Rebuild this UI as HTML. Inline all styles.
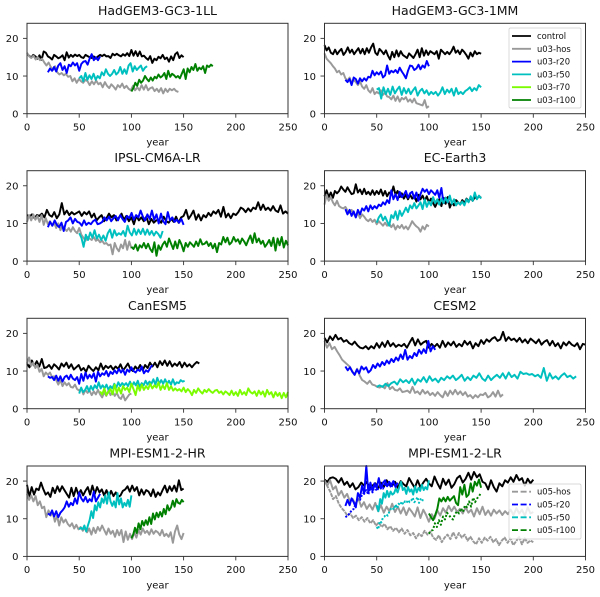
<!DOCTYPE html>
<html lang="en">
<head>
<meta charset="utf-8">
<title>AMOC recovery panels</title>
<style>
html,body{margin:0;padding:0;background:#fff;}
svg{display:block;filter:blur(0.3px);}
text{font-family:"DejaVu Sans","Liberation Sans",sans-serif;fill:#111;}
</style>
</head>
<body>
<svg id="chart" xmlns="http://www.w3.org/2000/svg" width="600" height="597" viewBox="0 0 600 597"></svg>
<script>
const xTicks = [0, 50, 100, 150, 200, 250];
const yTicks = [0, 10, 20];
const xMax = 250;
const yMax = 24;

const llControl = [15.8,15.4,14.9,15.6,15.2,14.6,15.5,14.3,16.5,16.2,15.2,14.9,14.4,15.6,15.2,14.7,15.0,15.5,14.2,16.3,14.9,15.6,15.1,15.7,15.3,15.6,15.0,14.8,15.6,15.3,15.0,14.8,15.2,14.6,15.2,15.6,15.3,15.7,15.2,15.3,14.8,15.9,15.5,15.9,15.5,15.2,15.8,15.4,16.1,15.3,16.9,15.4,16.6,15.3,16.5,15.2,15.4,14.8,14.3,15.3,13.5,14.6,14.2,15.1,14.7,15.6,14.5,14.9,13.8,15.2,14.2,15.8,16.3,14.8,15.5,15.0];
const llHos = [16.2,15.2,14.8,15.4,14.4,15.0,14.2,14.6,13.6,12.8,13.6,12.4,11.6,12.6,11.0,10.4,10.8,10.2,10.6,9.8,10.0,8.6,9.4,8.2,9.2,8.6,8.2,9.0,8.6,7.6,8.6,7.8,8.8,7.8,8.2,7.0,8.4,7.4,6.8,7.8,7.2,6.4,7.6,7.0,8.0,6.8,7.4,6.6,6.2,7.4,6.2,7.0,6.2,7.6,6.4,7.6,6.2,6.8,7.0,6.0,6.6,5.8,6.8,5.4,6.6,5.8,6.6,6.2,6.6,6.0,5.8];
const llR20 = [11.0,12.0,11.4,12.4,11.2,12.8,13.4,11.6,12.6,10.8,13.0,12.6,13.6,12.8,13.4,11.4,13.2,13.8,14.0,13.0,14.6,15.8,14.2,15.0,14.2,15.2];
const llR50 = [9.4,10.0,8.6,10.8,9.0,10.2,9.2,10.6,9.0,10.0,9.4,11.0,10.2,11.8,10.6,10.0,10.6,11.6,10.4,11.0,12.4,10.6,11.8,10.6,12.8,13.4,11.2,12.6,11.6,12.2,12.8,11.4,12.2,12.6];
const llR100 = [5.9,6.8,8.2,7.4,9.0,8.2,8.8,10.0,9.2,8.6,9.6,8.8,9.8,9.4,10.4,9.6,10.0,10.8,9.2,11.4,9.8,10.6,10.2,9.6,10.0,9.4,10.6,11.8,9.2,12.0,11.0,12.4,11.6,13.2,11.4,12.2,11.8,12.6,10.8,12.8,12.4,13.0,12.6];

const mmControl = [18.2,16.8,17.6,16.2,15.8,17.0,15.8,16.6,17.2,15.6,16.4,17.6,16.2,17.0,15.8,16.6,17.4,16.0,17.2,15.8,17.4,16.2,17.6,18.6,16.2,15.6,17.2,16.6,15.8,16.8,15.4,14.4,16.4,15.0,16.8,15.2,16.6,15.6,15.2,14.8,16.0,15.4,14.8,15.8,17.0,15.0,17.4,15.4,16.8,15.6,16.6,16.2,15.8,16.6,14.6,17.0,16.4,15.8,16.4,15.8,16.6,17.8,16.2,16.8,15.8,17.0,16.4,15.6,14.6,16.2,15.2,16.6,15.8,16.2,15.9];
const mmHos = [16.0,14.6,14.0,13.4,12.6,12.0,11.0,11.4,10.4,10.8,9.4,8.8,9.6,8.2,9.0,8.4,7.6,8.6,7.2,6.6,7.6,6.2,5.6,6.8,5.2,5.8,5.4,6.2,5.0,5.6,4.6,4.4,3.8,4.8,3.4,4.6,3.2,4.2,3.8,4.4,3.2,3.8,3.0,4.0,2.8,2.6,2.4,2.2,3.6,1.6,2.0];
const mmR20 = [9.0,8.4,9.2,7.6,9.6,9.2,8.0,9.4,8.6,9.4,8.8,9.8,9.6,11.4,10.2,11.0,10.4,11.2,9.6,10.2,12.8,10.6,11.4,11.0,11.6,10.8,12.2,11.2,10.4,9.4,11.4,12.8,12.6,11.6,12.0,13.0,11.8,12.8,12.2,14.0,12.6];
const mmR50 = [6.4,6.8,4.0,7.0,5.2,6.6,5.0,7.2,5.4,6.4,7.2,5.0,6.8,5.4,6.6,5.2,6.2,7.0,4.8,6.0,6.6,5.4,6.2,5.0,5.8,5.2,5.8,4.8,5.6,7.0,5.2,6.4,5.6,6.6,4.8,6.8,5.2,5.8,5.2,6.0,6.4,7.0,6.0,6.8,6.2,7.6,7.0];

const ipslControl = [12.2,11.8,12.4,11.4,12.2,12.0,12.6,11.6,13.6,12.2,11.8,13.0,11.4,12.4,15.4,12.4,13.4,12.2,13.0,12.4,12.8,13.2,12.0,13.0,12.4,13.2,11.6,12.6,10.8,11.6,12.2,10.6,11.4,12.6,11.6,12.2,10.8,11.6,12.6,11.0,12.0,10.6,11.6,9.8,12.0,10.8,11.6,10.6,11.8,9.8,11.2,10.2,10.8,11.0,10.2,11.8,10.6,10.2,11.2,10.4,11.8,10.2,11.6,12.0,13.6,11.2,12.2,13.4,11.0,12.4,10.8,12.2,11.6,12.8,12.0,13.2,12.6,13.6,11.8,14.4,11.6,12.6,11.4,12.6,12.2,13.0,14.2,13.8,13.0,14.0,13.2,14.2,13.8,15.6,13.6,15.0,13.6,14.2,13.4,14.6,13.4,13.0,14.8,12.6,13.2,12.6];
const ipslHos = [10.4,12.2,10.8,12.4,11.0,12.0,10.4,12.2,9.6,11.4,9.8,10.6,9.4,10.2,8.8,10.0,8.2,9.4,8.6,8.0,8.8,7.8,9.0,8.0,7.4,8.8,7.0,6.2,5.4,6.4,6.0,5.6,6.4,5.4,5.8,5.0,5.4,4.6,4.8,4.2,4.4,1.8,4.8,3.4,2.6,4.4,3.4,5.6,3.0,5.2,3.4];
const ipslR20 = [9.0,10.4,9.4,10.8,9.6,9.0,10.2,8.0,10.4,10.8,11.6,10.0,11.2,10.4,10.2,9.4,10.8,9.6,10.2,9.8,10.6,11.0,9.8,10.0,10.4,11.6,10.8,11.8,10.6,11.4,12.0,10.8,12.2,11.2,10.4,12.0,11.4,12.8,11.0,12.2,11.6,13.4,11.8,10.8,12.4,11.2,13.4,11.0,12.4,10.0,12.6,10.6,9.8,13.0,10.8,11.6,10.4,11.0,10.2,11.2,9.6];
const ipslR50 = [7.4,6.2,3.8,7.0,5.6,7.6,6.2,8.2,6.0,7.0,5.6,6.8,5.4,7.4,8.4,6.2,8.2,6.8,7.4,7.0,8.0,6.6,9.4,7.6,6.8,8.6,7.0,8.4,7.2,8.6,7.0,8.4,7.0,8.0,6.8,7.8,7.2,6.2,8.0];
const ipslR100 = [3.8,3.2,4.4,2.8,4.2,3.6,4.8,3.4,4.6,3.2,2.4,5.0,1.4,4.2,3.0,4.4,5.2,3.8,6.0,4.6,3.2,5.2,3.4,5.6,4.4,2.6,4.8,3.8,5.0,4.4,3.8,5.2,4.0,5.8,4.4,4.6,5.2,4.0,4.8,3.4,4.6,2.4,4.8,4.4,6.4,5.0,6.2,4.4,5.0,6.4,5.2,5.8,4.6,6.0,5.2,4.2,5.6,6.8,4.8,7.4,5.0,6.0,4.6,5.4,3.8,4.6,5.6,4.0,6.2,2.8,6.0,4.2,6.4,3.6,5.4,4.2];

const ecControl = [17.2,18.8,17.0,18.2,16.8,18.6,18.0,18.6,19.8,19.0,18.4,19.6,18.6,17.8,18.0,20.4,18.2,19.0,17.8,19.2,17.8,18.4,17.6,18.8,17.6,18.6,17.8,19.0,17.4,18.6,17.2,18.2,17.8,19.8,17.6,18.6,17.0,18.0,16.6,17.6,16.4,17.6,16.6,17.4,15.8,17.6,16.4,17.4,16.0,17.2,15.6,16.6,15.4,14.4,15.6,16.4,14.6,16.8,15.2,17.0,14.2,15.6,14.8,16.2,15.6,15.0,16.2,15.4,16.6,15.8,16.8,16.0,17.0,16.6,17.2,16.8];
const ecHos = [15.0,17.6,16.0,17.0,15.6,14.8,16.0,14.6,14.2,14.0,14.4,13.4,12.8,13.6,12.6,11.6,12.8,11.4,12.4,11.8,11.0,10.6,11.2,10.4,11.0,9.8,10.6,10.0,9.4,10.2,9.4,10.0,9.0,9.8,8.4,9.4,8.8,9.6,8.6,9.2,8.4,9.4,10.6,9.8,9.2,8.8,7.8,9.2,8.4,9.6,9.2];
const ecR20 = [13.8,12.4,13.6,12.0,13.2,11.6,13.6,12.4,14.0,13.4,14.6,13.2,14.8,13.8,14.6,14.0,15.0,14.6,15.6,15.0,16.2,15.4,18.8,16.4,17.8,16.2,18.4,17.0,17.6,18.6,16.8,18.0,18.4,16.6,18.2,16.0,17.8,19.2,18.4,19.0,17.8,18.8,18.2,17.6,18.8,16.8,19.4,15.4,16.8,15.6,17.0];
const ecR50 = [10.2,11.6,12.4,10.8,11.8,10.6,9.4,12.2,11.4,13.2,11.0,13.4,12.0,13.0,14.2,13.0,14.8,14.0,15.4,14.0,14.8,15.6,13.8,16.4,14.4,15.8,14.8,17.0,15.4,16.4,15.0,16.6,15.4,16.8,15.6,17.4,15.2,16.4,14.8,15.6,15.0,15.8,14.8,16.4,15.6,17.2,16.0,18.2,16.4,17.4,16.6];

const canControl = [12.0,11.0,12.8,11.4,12.6,11.2,13.2,10.8,11.0,11.6,10.6,11.8,11.2,10.4,12.0,11.2,12.2,10.8,11.8,10.4,11.0,11.6,10.2,10.8,9.8,11.4,10.6,10.0,11.0,10.2,12.0,10.4,11.4,10.8,11.4,10.4,11.2,10.6,11.8,10.2,11.0,12.0,10.6,10.0,11.2,10.4,11.6,10.2,11.6,10.8,12.2,11.2,12.2,11.0,12.6,11.6,12.8,11.4,12.6,11.2,12.0,11.4,12.4,11.0,12.2,11.2,11.8,11.0,11.8,12.4,12.0];
const canHos = [12.0,13.6,11.4,12.2,10.8,11.6,9.8,10.6,8.6,9.6,9.0,9.6,8.4,8.6,7.6,6.4,7.6,6.0,7.0,6.2,6.8,5.8,5.6,6.4,5.2,4.8,5.4,3.8,5.0,4.2,4.8,3.6,4.6,3.8,5.0,3.8,3.0,4.4,3.4,4.8,3.6,4.6,3.4,4.2,3.0,2.6,3.8,2.2,3.0,3.8,4.0];
const canR20 = [8.6,8.2,8.4,7.6,8.8,7.4,8.6,7.2,8.4,8.8,7.8,9.0,8.0,7.6,8.4,6.6,9.2,7.4,9.6,8.0,9.0,8.2,9.4,7.2,9.8,8.6,9.4,9.0,10.0,8.6,9.8,9.2,10.2,9.4,10.6,9.6,10.4,9.0,10.4,9.8,11.0,10.0,9.6,10.4,10.0,11.2,9.4,10.2,9.8,10.8,11.6];
const canR50 = [4.0,5.6,4.4,5.0,6.0,4.6,6.0,5.0,6.2,5.4,7.0,5.4,6.2,5.4,6.4,5.0,6.0,5.4,6.6,5.6,7.0,6.0,6.8,6.2,6.8,6.0,7.2,6.0,7.0,6.2,7.4,5.8,6.8,6.2,7.4,6.4,7.2,6.6,7.8,6.4,8.2,6.6,7.6,6.6,7.8,6.6,7.4,6.4,7.8,6.4,7.0,6.8,7.6,7.2,7.4];
const canR70 = [4.6,3.8,5.4,3.6,4.4,5.2,3.8,6.4,4.2,5.6,4.0,6.0,5.0,5.6,4.4,6.6,5.2,3.6,6.2,4.8,6.4,5.0,6.0,5.2,6.6,5.4,6.2,5.6,7.0,5.0,6.2,5.2,6.8,5.0,6.0,4.8,5.4,4.8,5.2,4.6,5.6,4.4,5.2,4.6,3.6,5.0,4.2,5.4,4.6,4.0,5.0,4.4,5.2,4.6,4.2,4.8,5.0,4.2,4.6,3.8,4.6,4.2,3.6,4.8,3.6,4.4,3.4,5.0,3.8,4.4,3.6,5.4,4.4,4.0,4.6,3.4,4.8,3.8,4.6,3.2,5.0,3.8,4.4,3.0,4.4,3.4,4.2,2.8,4.2,3.0,4.4];

const cesmControl = [18.8,17.6,19.2,18.2,19.6,18.4,18.8,17.8,18.2,17.4,17.0,17.8,16.8,16.2,16.0,16.6,15.8,16.6,16.0,17.4,16.2,17.6,16.4,18.0,16.6,17.4,16.4,17.0,16.6,17.2,16.2,17.6,18.8,16.8,18.4,17.0,17.6,18.0,16.2,17.2,16.4,17.2,16.2,18.0,16.4,17.6,16.8,17.8,16.4,17.2,16.6,18.0,17.0,17.8,16.0,17.4,16.6,18.2,17.2,18.4,17.8,18.6,19.0,18.0,18.4,20.4,18.0,19.0,18.2,18.6,17.8,18.8,17.6,18.4,17.4,18.6,18.0,17.4,18.4,17.0,17.8,18.2,16.8,18.0,16.6,17.4,16.0,17.6,16.8,17.8,17.0,16.6,17.4,15.8,17.2,17.0];
const cesmHos = [18.0,16.2,17.4,15.8,16.4,15.2,14.2,13.0,12.4,11.8,11.2,10.0,9.0,10.6,8.8,7.6,7.2,6.6,7.4,6.4,6.2,5.8,5.6,6.0,5.4,6.8,5.2,5.8,5.0,4.8,5.4,4.4,4.6,4.8,4.2,5.8,4.2,4.6,3.8,5.0,4.0,4.6,3.6,4.2,3.4,4.4,3.6,3.0,4.6,3.4,4.8,3.8,5.0,3.8,4.6,3.6,4.4,3.2,3.6,2.8,3.6,3.0,3.8,3.6,4.2,3.0,3.4,4.4,3.2,4.8,3.2,3.8];
const cesmR20 = [11.2,10.2,11.0,9.8,9.0,10.4,9.4,11.2,10.4,11.0,9.6,10.2,11.6,10.8,12.0,11.2,12.4,11.6,12.8,12.0,13.2,12.4,13.6,12.8,14.4,13.2,15.6,13.0,14.0,13.4,14.8,14.0,15.6,14.6,15.8,14.8,18.0,15.2,16.6,15.6];
const cesmR50 = [5.8,6.2,5.8,6.6,6.0,6.8,7.2,6.4,7.8,7.0,7.6,6.8,8.0,6.4,7.8,7.2,8.4,7.0,8.6,7.4,8.0,7.0,8.2,7.6,8.6,8.0,8.8,7.6,8.2,9.0,7.4,8.4,7.6,8.8,8.2,9.4,8.0,7.4,8.8,7.6,8.4,9.0,8.2,9.4,8.0,9.6,8.4,9.0,8.0,9.8,9.2,9.4,9.0,9.2,8.6,9.0,8.2,10.8,7.4,9.4,8.0,8.6,7.8,8.8,9.4,8.4,8.8,8.0,8.6];

const hrControl = [19.0,15.8,18.4,16.4,18.0,17.6,19.6,17.8,16.4,17.0,15.8,18.2,16.8,18.6,17.2,18.6,17.6,16.6,15.6,18.2,16.0,18.2,16.4,17.6,16.2,17.4,18.4,16.4,18.8,16.6,18.4,17.0,17.8,16.2,17.6,15.8,17.4,16.0,17.0,15.8,16.2,17.4,17.8,18.6,17.2,18.8,17.4,18.4,16.2,17.8,16.4,17.6,17.2,16.0,17.8,15.8,17.0,16.2,17.6,18.8,17.0,18.6,17.4,18.8,17.2,20.2,17.6,18.0];
const hrHos = [16.6,15.0,16.2,14.6,16.0,13.6,14.6,12.8,13.2,10.4,12.2,10.8,11.6,9.2,10.8,8.2,10.4,9.0,9.8,8.6,8.0,8.8,7.4,8.4,7.2,7.8,6.8,7.6,6.4,7.4,5.8,7.6,6.2,7.8,6.8,8.2,7.0,5.8,7.4,6.0,6.8,5.2,7.0,5.6,7.0,3.8,6.6,4.4,6.0,4.6,6.4,5.0,7.0,5.8,7.4,6.2,6.8,5.8,7.2,6.0,6.8,6.4,5.6,7.0,5.4,6.0,5.2,6.4,3.6,6.6,8.2,5.8,4.6,6.2];
const hrR20 = [11.4,11.0,12.2,10.6,12.0,10.4,11.6,12.2,13.0,14.6,13.2,14.2,13.6,15.4,14.0,17.0,15.4,14.6,15.8,14.4,15.2,14.6,17.2,14.6,15.6,16.6];
const hrR50 = [7.2,7.6,7.2,8.2,6.6,8.2,9.6,12.0,10.2,13.6,12.2,14.4,13.0,15.4,14.2,16.2,14.0,17.0,14.6,13.4,14.6,13.0,16.8,13.8,15.4,13.0,14.2,13.4,15.0,13.2,16.2];
const hrR100 = [4.8,5.8,7.6,6.2,8.8,7.2,9.4,8.2,9.6,8.4,10.4,8.6,11.4,9.8,11.6,10.4,11.8,10.6,12.6,11.2,13.6,12.2,13.0,14.8,13.2,15.2,14.2,14.0,15.0,14.4];

const lrControl = [20.4,19.8,20.8,21.0,20.6,19.6,20.8,19.0,19.8,18.4,19.4,17.8,18.4,19.6,18.8,19.8,18.2,18.8,19.4,18.0,19.6,18.4,20.2,19.0,18.8,19.8,18.2,20.0,19.2,18.6,20.8,19.4,18.2,20.2,18.4,19.6,20.6,19.4,18.6,21.2,19.4,18.0,20.6,19.0,20.4,18.2,19.2,20.8,21.4,19.6,20.6,22.2,20.4,22.4,21.0,21.8,19.8,19.4,17.8,20.2,18.4,17.2,19.4,18.6,20.2,19.6,21.0,19.8,21.6,20.2,20.8,18.8,20.6,19.4,20.4];
const lrHosA = [20.0,18.8,20.2,17.8,18.6,16.2,17.4,15.6,16.6,14.6,15.2,13.8,15.4,13.2,14.4,12.6,13.8,12.4,14.2,12.0,13.6,11.6,13.2,12.0,14.0,11.8,13.2,11.4,13.0,11.0,12.8,11.8,10.6,13.0,10.2,12.4,11.0,9.2,11.2,10.0,12.2,10.8,12.8,11.6,13.4,12.0,13.2,11.8,12.6,11.4,13.0,11.6,12.4,10.6,12.8,11.2,13.2,11.0,12.2,10.8,12.4,11.4,12.2,11.0,12.0,11.2,12.4,11.0,12.8,11.4,12.4,10.8,13.0,11.4,11.8];
const lrHosB = [20.2,18.6,17.2,15.2,16.0,14.0,12.8,12.0,10.8,11.4,10.2,10.8,9.6,10.4,9.2,10.2,8.8,9.6,8.2,9.0,7.8,8.6,7.2,8.0,6.8,7.6,6.4,7.4,6.0,7.0,5.6,6.2,4.8,6.0,5.4,6.8,5.8,6.6,5.0,4.4,5.6,3.8,5.0,5.8,4.6,6.4,4.8,6.2,5.0,5.8,4.2,5.2,4.0,3.2,4.8,3.6,5.0,4.2,5.2,3.8,4.6,3.0,4.2,5.0,3.6,4.8,3.0,4.0,5.2,3.2,4.8,3.6,4.2,3.8];
const lrR20A = [13.4,15.0,13.6,15.4,14.4,13.0,16.8,15.6,18.8,16.6,24.0,17.0,19.6,17.4,19.4,18.2,20.8,18.0,19.6,20.2,18.6,19.8,19.0,20.0,18.4,19.6];
const lrR20B = [10.4,10.8,11.4,12.2,12.6,14.0,15.2,15.0,16.4,17.0,17.6,16.4,18.2,17.0,18.6,17.4,18.2,19.0,18.0,19.4,18.6,19.2,18.2,19.6,18.8,19.4];
const lrR50A = [13.6,12.0,15.2,14.0,16.8,15.6,17.4,15.8,17.2,16.4,16.8,18.0,17.0,18.4,19.8,17.6,18.2,16.6,18.4,17.2,17.8,16.4,18.6,17.0,18.2,17.4,19.0,17.6,18.4,17.8,20.2];
const lrR50B = [7.8,7.2,9.4,9.0,10.4,10.6,11.2,10.8,11.8,12.6,13.0,12.4,13.8,12.8,14.0,13.6,14.6,13.8,14.6,14.2,15.0,14.4,14.8,15.6,14.4,14.8,15.8,14.2,15.2,14.6,15.6];
const lrR100A = [11.4,10.4,9.6,11.0,12.6,15.4,14.6,15.6,14.6,15.8,14.8,15.4,16.0,14.2,13.6,18.4,16.4,19.0,15.8,16.4,19.4,17.2,19.8,18.8,20.4,18.2];
const lrR100B = [6.0,6.8,7.0,8.8,7.8,9.6,8.4,10.6,9.8,11.6,11.0,10.2,9.8,11.2,12.0,11.4,12.8,11.8,13.6,13.0,14.6,13.2,15.6,14.4,15.4,16.0,17.0];

const grey = "#999999";
const blue = "#0000ff";
const cyan = "#00bfbf";
const lime = "#7cfc00";
const green = "#008000";

const panels = [
  { title: "HadGEM3-GC3-1LL", key: "hadgem-ll", col: 0, row: 0, series: [
    { name: "control", color: "#000", start: 0, end: 150, values: llControl },
    { name: "u03-hos", color: grey, start: 0, end: 145, values: llHos },
    { name: "u03-r20", color: blue, start: 20, end: 70, values: llR20 },
    { name: "u03-r50", color: cyan, start: 50, end: 115, values: llR50 },
    { name: "u03-r100", color: green, start: 100, end: 178, values: llR100 } ] },
  { title: "HadGEM3-GC3-1MM", key: "hadgem-mm", col: 1, row: 0, series: [
    { name: "control", color: "#000", start: 0, end: 150, values: mmControl },
    { name: "u03-hos", color: grey, start: 0, end: 100, values: mmHos },
    { name: "u03-r20", color: blue, start: 20, end: 100, values: mmR20 },
    { name: "u03-r50", color: cyan, start: 50, end: 150, values: mmR50 } ] },
  { title: "IPSL-CM6A-LR", key: "ipsl", col: 0, row: 1, series: [
    { name: "control", color: "#000", start: 0, end: 250, values: ipslControl },
    { name: "u03-hos", color: grey, start: 0, end: 100, values: ipslHos },
    { name: "u03-r20", color: blue, start: 20, end: 150, values: ipslR20 },
    { name: "u03-r50", color: cyan, start: 50, end: 130, values: ipslR50 },
    { name: "u03-r100", color: green, start: 100, end: 250, values: ipslR100 } ] },
  { title: "EC-Earth3", key: "ec-earth", col: 1, row: 1, series: [
    { name: "control", color: "#000", start: 0, end: 150, values: ecControl },
    { name: "u03-hos", color: grey, start: 0, end: 100, values: ecHos },
    { name: "u03-r20", color: blue, start: 20, end: 120, values: ecR20 },
    { name: "u03-r50", color: cyan, start: 50, end: 150, values: ecR50 } ] },
  { title: "CanESM5", key: "canesm", col: 0, row: 2, series: [
    { name: "control", color: "#000", start: 0, end: 165, values: canControl },
    { name: "u03-hos", color: grey, start: 0, end: 100, values: canHos },
    { name: "u03-r20", color: blue, start: 20, end: 120, values: canR20 },
    { name: "u03-r50", color: cyan, start: 50, end: 151, values: canR50 },
    { name: "u03-r70", color: lime, start: 70, end: 250, values: canR70 } ] },
  { title: "CESM2", key: "cesm", col: 1, row: 2, series: [
    { name: "control", color: "#000", start: 0, end: 250, values: cesmControl },
    { name: "u03-hos", color: grey, start: 0, end: 171, values: cesmHos },
    { name: "u03-r20", color: blue, start: 20, end: 106, values: cesmR20 },
    { name: "u03-r50", color: cyan, start: 50, end: 241, values: cesmR50 } ] },
  { title: "MPI-ESM1-2-HR", key: "mpi-hr", col: 0, row: 3, series: [
    { name: "control", color: "#000", start: 0, end: 150, values: hrControl },
    { name: "u03-hos", color: grey, start: 0, end: 150, values: hrHos },
    { name: "u03-r20", color: blue, start: 20, end: 70, values: hrR20 },
    { name: "u03-r50", color: cyan, start: 50, end: 100, values: hrR50 },
    { name: "u03-r100", color: green, start: 100, end: 150, values: hrR100 } ] },
  { title: "MPI-ESM1-2-LR", key: "mpi-lr", col: 1, row: 3, series: [
    { name: "control", color: "#000", start: 0, end: 200, values: lrControl },
    { name: "u03-hos", color: grey, start: 0, end: 200, values: lrHosA },
    { name: "u05-hos", color: grey, start: 0, end: 200, values: lrHosB, dash: "4 0.8" },
    { name: "u03-r20", color: blue, start: 20, end: 70, values: lrR20A },
    { name: "u05-r20", color: blue, start: 20, end: 70, values: lrR20B, dash: "2 1.5" },
    { name: "u03-r50", color: cyan, start: 50, end: 100, values: lrR50A },
    { name: "u05-r50", color: cyan, start: 50, end: 95, values: lrR50B, dash: "2 2" },
    { name: "u03-r100", color: green, start: 100, end: 150, values: lrR100A },
    { name: "u05-r100", color: green, start: 100, end: 150, values: lrR100B, dash: "2 2" } ] }
];

const legendOne = [
  { label: "control", color: "#000" },
  { label: "u03-hos", color: grey },
  { label: "u03-r20", color: blue },
  { label: "u03-r50", color: cyan },
  { label: "u03-r70", color: lime },
  { label: "u03-r100", color: green }
];
const legendTwo = [
  { label: "u05-hos", color: grey },
  { label: "u05-r20", color: blue },
  { label: "u05-r50", color: cyan },
  { label: "u05-r100", color: green }
];

const NS = "http://www.w3.org/2000/svg";
const svg = document.getElementById("chart");
const colLeft = [27, 324.5];
const rowTop = [23.3, 170.7, 318.3, 466];
const axW = 261;
const axH = 90.4;

function make(parent, tag, attrs) {
  const el = document.createElementNS(NS, tag);
  for (const k in attrs) el.setAttribute(k, attrs[k]);
  parent.appendChild(el);
  return el;
}

function drawLegend(parent, entries, box, dashed, slug) {
  const g = make(parent, "g", {});
  
  
  const bg = make(g, "rect", { x: box.x, y: box.y, width: box.w, height: box.h, rx: 1.5, fill: "#fff", "fill-opacity": 0.8, stroke: "#ccc", "stroke-width": 0.7 });
  
  
  entries.forEach(function (entry, i) {
    const y = box.first + i * box.gap;
    const swatch = make(g, "line", { x1: box.x + 3, x2: box.x + 22, y1: y, y2: y, stroke: entry.color, "stroke-width": 1.8 });
    if (dashed) swatch.setAttribute("stroke-dasharray", "6 2.6");
    
    
    const label = make(g, "text", { x: box.x + 28, y: y + 3, "font-size": 8.4 });
    label.textContent = entry.label;
    
    
  });
}

panels.forEach(function (p) {
  const left = colLeft[p.col];
  const top = rowTop[p.row];
  const sx = function (v) { return left + (v / xMax) * axW; };
  const sy = function (v) { return top + axH - (v / yMax) * axH; };

  const g = make(svg, "g", {});
  
  

  const title = make(g, "text", { x: left + axW / 2, y: top - 8.5, "text-anchor": "middle", "font-size": 12.5 });
  title.textContent = p.title;
  
  

  p.series.forEach(function (s) {
    const last = s.values.length - 1;
    const pts = s.values.map(function (v, i) {
      const year = s.start + (i / last) * (s.end - s.start);
      return sx(year).toFixed(1) + "," + sy(v).toFixed(1);
    }).join(" ");
    const line = make(g, "polyline", { points: pts, fill: "none", stroke: s.color, "stroke-width": 1.95, "stroke-linejoin": "round" });
    if (s.dash) line.setAttribute("stroke-dasharray", s.dash);
    
    
  });

  const frame = make(g, "rect", { x: left, y: top, width: axW, height: axH, fill: "none", stroke: "#333", "stroke-width": 1 });
  
  

  xTicks.forEach(function (t) {
    const tick = make(g, "line", { x1: sx(t), x2: sx(t), y1: top + axH, y2: top + axH + 4, stroke: "#333", "stroke-width": 0.9 });
    
    
    const lab = make(g, "text", { x: sx(t), y: top + axH + 16.8, "text-anchor": "middle", "font-size": 10 });
    lab.textContent = String(t);
    
    
  });
  yTicks.forEach(function (t) {
    const tick = make(g, "line", { x1: left - 4, x2: left, y1: sy(t), y2: sy(t), stroke: "#333", "stroke-width": 0.9 });
    
    
    const lab = make(g, "text", { x: left - 8.5, y: sy(t) + 3.8, "text-anchor": "end", "font-size": 10 });
    lab.textContent = String(t);
    
    
  });

  const xl = make(g, "text", { x: left + axW / 2, y: top + axH + 32, "text-anchor": "middle", "font-size": 10 });
  xl.textContent = "year";
  
  
});

drawLegend(svg, legendOne, { x: 509, y: 28, w: 72, h: 80, first: 36, gap: 12.8 }, false, "legend-u03");
drawLegend(svg, legendTwo, { x: 509, y: 484, w: 72, h: 55, first: 491.7, gap: 12.8 }, true, "legend-u05");
</script>
</body>
</html>
